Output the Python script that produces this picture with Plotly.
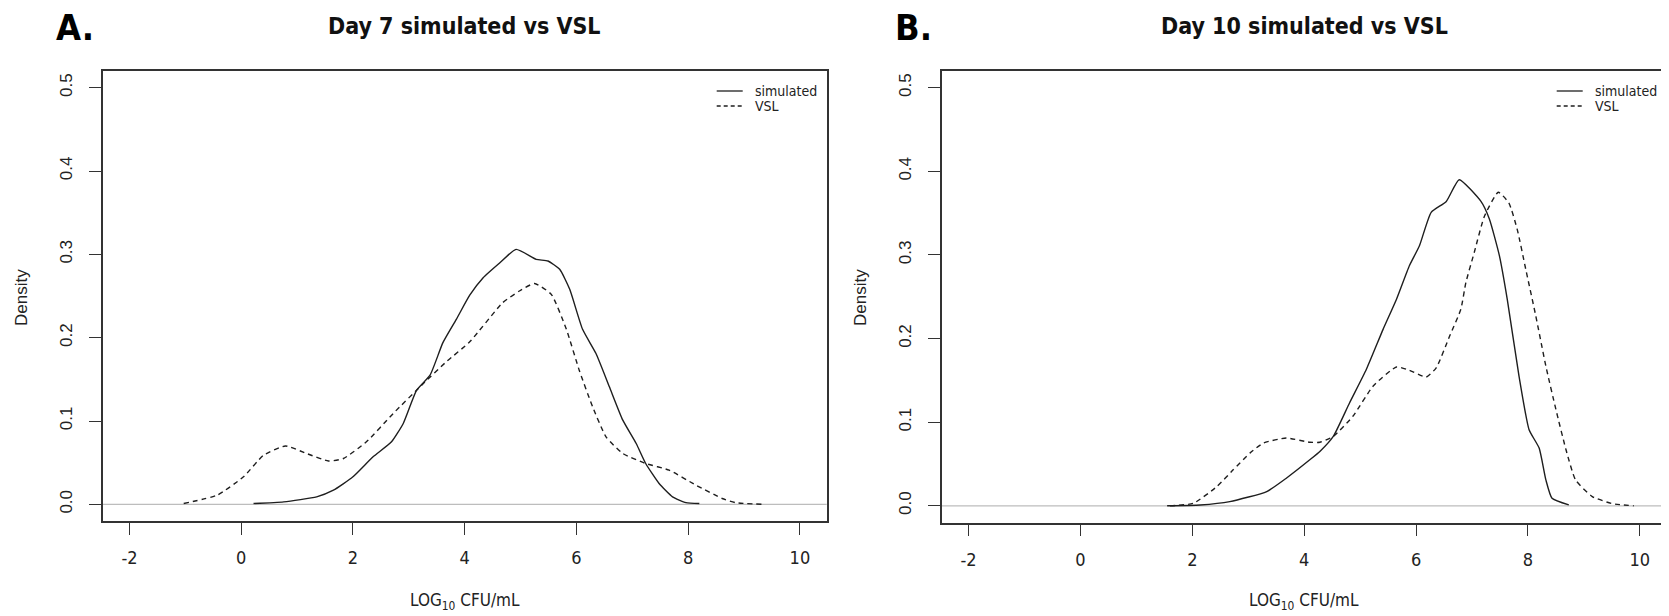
import plotly.graph_objects as go

# ---------------- data ----------------
d7_sim_x = [0.22, 0.76, 1.35, 1.65, 2.0, 2.36, 2.69, 2.90, 3.14, 3.38, 3.61, 3.85, 4.09,
            4.33, 4.63, 4.92, 5.28, 5.49, 5.70, 5.88, 6.11, 6.35, 6.59, 6.83, 7.07, 7.24,
            7.48, 7.72, 7.96, 8.20]
d7_sim_y = [0.001, 0.003, 0.009, 0.017, 0.033, 0.057, 0.075, 0.097, 0.137, 0.155, 0.194,
            0.222, 0.251, 0.272, 0.290, 0.306, 0.294, 0.292, 0.282, 0.258, 0.210, 0.181,
            0.141, 0.101, 0.073, 0.049, 0.025, 0.009, 0.002, 0.001]

d7_vsl_x = [-1.03, -0.43, 0.04, 0.40, 0.79, 1.17, 1.56, 1.83, 2.24, 2.72, 3.26, 3.67, 4.09,
            4.68, 4.98, 5.25, 5.55, 5.82, 6.05, 6.29, 6.53, 6.83, 7.24, 7.66, 8.14, 8.61,
            8.85, 9.33]
d7_vsl_y = [0.001, 0.011, 0.033, 0.059, 0.070, 0.061, 0.052, 0.055, 0.075, 0.109, 0.145,
            0.171, 0.195, 0.242, 0.256, 0.265, 0.252, 0.210, 0.161, 0.117, 0.081, 0.061,
            0.049, 0.041, 0.023, 0.007, 0.002, 0.0]

d10_sim_x = [1.55, 2.14, 2.67, 3.33, 3.68, 4.10, 4.28, 4.52, 4.81, 5.11, 5.41, 5.65, 5.88,
             6.06, 6.27, 6.54, 6.77, 7.16, 7.31, 7.49, 7.63, 7.84, 8.02, 8.20, 8.32, 8.43,
             8.73]
d10_sim_y = [0.0, 0.001, 0.005, 0.017, 0.033, 0.055, 0.065, 0.083, 0.123, 0.163, 0.211,
             0.247, 0.287, 0.311, 0.351, 0.364, 0.390, 0.364, 0.343, 0.299, 0.247, 0.155,
             0.091, 0.069, 0.031, 0.009, 0.001]

d10_vsl_x = [1.60, 2.02, 2.44, 2.73, 3.03, 3.27, 3.68, 4.10, 4.28, 4.52, 4.87, 5.23, 5.65,
             5.88, 6.18, 6.36, 6.60, 6.80, 6.89, 7.04, 7.22, 7.47, 7.66, 7.81, 7.96, 8.14,
             8.32, 8.50, 8.68, 8.85, 9.15, 9.51, 9.89]
d10_vsl_y = [0.0, 0.003, 0.023, 0.043, 0.063, 0.075, 0.081, 0.076, 0.076, 0.083, 0.107,
             0.143, 0.166, 0.162, 0.154, 0.165, 0.203, 0.235, 0.267, 0.303, 0.346, 0.375,
             0.362, 0.330, 0.283, 0.227, 0.167, 0.115, 0.067, 0.031, 0.011, 0.0025, 0.0]

x_ticks = [-2, 0, 2, 4, 6, 8, 10]
y_ticks = [0.0, 0.1, 0.2, 0.3, 0.4, 0.5]
panel_titles = ["Day 7 simulated vs VSL", "Day 10 simulated vs VSL"]
panel_letters = ["A.", "B."]
series_names = ["simulated", "VSL"]

# ---------------- style ----------------
PAGE_OFF = 8                      # default body margin of the html page
W, H = 1669 - PAGE_OFF, 616 - PAGE_OFF
NARROW = "DejaVu Sans Condensed, Liberation Sans, Arial, sans-serif"
REG = "Liberation Sans, Arial, sans-serif"
INK = "#1e1e1e"
BOX = "#333333"

def px2fx(px):
    return (px - PAGE_OFF) / W

def py2fy(py):
    return 1 - (py - PAGE_OFF) / H

dom_x = [[px2fx(102.7), px2fx(826.7)], [px2fx(941.7), px2fx(1666.7)]]
dom_y = [[py2fy(521), py2fy(71)], [py2fy(522.5), py2fy(71)]]

fig = go.Figure()

panels = [
    (d7_sim_x, d7_sim_y, d7_vsl_x, d7_vsl_y),
    (d10_sim_x, d10_sim_y, d10_vsl_x, d10_vsl_y),
]

for i, (sx, sy, vx, vy) in enumerate(panels):
    xa = "x" if i == 0 else "x2"
    ya = "y" if i == 0 else "y2"
    fig.add_trace(go.Scatter(x=sx, y=sy, mode="lines", name=series_names[0],
                             line=dict(color=INK, width=1.4, shape="spline", smoothing=0.5),
                             xaxis=xa, yaxis=ya, showlegend=False))
    fig.add_trace(go.Scatter(x=vx, y=vy, mode="lines", name=series_names[1],
                             line=dict(color=INK, width=1.4, dash="5px,4px", shape="spline", smoothing=0.5),
                             xaxis=xa, yaxis=ya, showlegend=False))

axis_common = dict(showgrid=False, zeroline=False, showline=True, mirror=True,
                   linecolor=BOX, linewidth=1.5, ticks="outside", ticklen=12,
                   tickwidth=1.3, tickcolor=BOX)

layout = dict(width=W, height=H, plot_bgcolor="white", paper_bgcolor="white",
              margin=dict(l=0, r=0, t=0, b=0), showlegend=False)

for i in range(2):
    sfx = "" if i == 0 else "2"
    layout["xaxis" + sfx] = dict(axis_common, domain=dom_x[i], range=[-2.48, 10.48],
                                 tickvals=x_ticks, ticktext=[str(v) for v in x_ticks],
                                 tickfont=dict(family=NARROW, size=18, color="#222"),
                                 ticklabelstandoff=8,
                                 anchor="y" + sfx)
    layout["yaxis" + sfx] = dict(axis_common, domain=dom_y[i], range=[-0.02, 0.52],
                                 tickvals=y_ticks, ticktext=["%.1f" % v for v in y_ticks],
                                 tickangle=-90,
                                 tickfont=dict(family=REG, size=17, color="#222"),
                                 ticklabelstandoff=10,
                                 anchor="x" + sfx)
fig.update_layout(**layout)

annotations = []
shapes = []
for i in range(2):
    sfx = "" if i == 0 else "2"
    xc = (dom_x[i][0] + dom_x[i][1]) / 2
    # title
    annotations.append(dict(text="<b>%s</b>" % panel_titles[i], x=xc, y=py2fy(26),
                            xref="paper", yref="paper", showarrow=False,
                            xanchor="center", yanchor="middle",
                            font=dict(family=NARROW, size=23, color="#111")))
    # panel letter
    annotations.append(dict(text="<b>%s</b>" % panel_letters[i],
                            x=px2fx(54 + i * 839), y=py2fy(27),
                            xref="paper", yref="paper", showarrow=False,
                            xanchor="left", yanchor="middle",
                            font=dict(family=NARROW, size=36, color="#000")))
    # x title
    annotations.append(dict(text="LOG<sub>10</sub> CFU/mL", x=xc, y=py2fy(601),
                            xref="paper", yref="paper", showarrow=False,
                            xanchor="center", yanchor="middle",
                            font=dict(family=NARROW, size=17, color="#222")))
    # y title
    annotations.append(dict(text="Density", x=px2fx(21 + i * 839), y=py2fy(298),
                            xref="paper", yref="paper", showarrow=False, textangle=-90,
                            xanchor="center", yanchor="middle",
                            font=dict(family=REG, size=17, color="#222")))
    # zero baseline (gray) across the plot region
    shapes.append(dict(type="line", xref="x%s domain" % sfx, yref="y" + sfx,
                       x0=0, x1=1, y0=0, y1=0, line=dict(color="#bdbdbd", width=1.3),
                       layer="below"))
    # legend key (top-right inside the box)
    right = dom_x[i][1]
    for k, (nm, dash, yy) in enumerate([(series_names[0], "solid", 91), (series_names[1], "4px,3px", 106)]):
        shapes.append(dict(type="line", xref="paper", yref="paper",
                           x0=right - 110 / W, x1=right - 84 / W,
                           y0=py2fy(yy), y1=py2fy(yy),
                           line=dict(color=INK, width=1.3, dash=dash)))
        annotations.append(dict(text=nm, x=right - 74 / W, y=py2fy(yy),
                                xref="paper", yref="paper", showarrow=False,
                                xanchor="left", yanchor="middle",
                                font=dict(family=NARROW, size=14, color="#222")))

fig.update_layout(annotations=annotations, shapes=shapes)
fig.write_html("out.html")
